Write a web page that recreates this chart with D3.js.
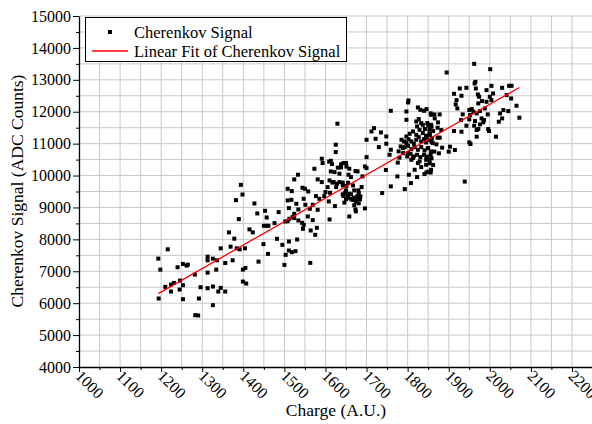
<!DOCTYPE html>
<html>
<head>
<meta charset="utf-8">
<script src="https://cdn.jsdelivr.net/npm/d3@7"></script>
<style>
html,body{margin:0;padding:0;background:#fff;}
svg{display:block;font-family:"Liberation Serif","Times New Roman",serif;}
</style>
</head>
<body>
<svg id="chart" width="592" height="424"></svg>
<script>
// ---- data ----
const charge = [
1193,1198,1216,1194,1210,1224,1231,1224,1246,1253,1245,1253,1240,1253,1262,1265,1282,1283,1290,1292,
1296,1313,1313,1313,1313,1326,1326,1326,1334,1336,1339,1345,1345,1356,1356,1365,1369,1374,1378,1382,
1394,1398,1389,1384,1391,1399,1399,1405,1407,1404,1415,1423,1427,1434,1437,
1629,1625,1625,1591,1593,1613,1616,1573,1644,1650,1638,1658,1673,1678,1533,1524,1581,1591,1613,1622,
1634,1656,1662,1610,1620,1628,1634,1642,1655,1667,1670,1680,1650,1658,1644,1655,1662,1674,1626,1605,
1600,1611,1597,1608,1623,1673,1658,1610,1508,1518,1544,1550,1558,1508,1517,1529,1511,1547,1551,1562,
1569,1581,1534,1524,1520,1512,1502,1508,1524,1534,1543,1547,1545,1557,1569,1564,1579,1575,1531,1511,
1495,1486,1476,1456,1450,1461,1457,1453,1449,1460,1482,1503,1511,1518,1527,1500,1563,1585,1577,
1642,1648,1654,1662,1670,1678,1684,1650,1666,1674,1646,1670,1681,1642,1651,1617,1638,1651,1609,1630,
1747,1780,1776,1851,
1802,1801,1759,1797,1825,1831,1840,1797,1821,1827,1857,1837,1848,1853,1718,1712,1722,1700,1735,1748,
1748,1730,1759,1756,1700,1696,1700,1690,1688,1681,1676,1685,1674,1696,1738,1759,1775,1793,1808,1823,
1841,1817,1803,1778,1789,1801,1813,1825,1833,1845,1853,1857,
1785,1791,1797,1802,1809,1815,1821,1827,1833,1840,1845,1851,1859,1783,1793,1801,1809,1817,1825,1833,
1841,1849,1857,1789,1799,1807,1815,1823,1831,1840,1848,1856,1797,1805,1813,1821,1829,1837,1845,1853,
1861,1809,1829,1845,1823,1833,1857,
1962,2001,1895,1965,1963,1927,1943,1913,1931,1966,1971,1974,1992,2004,2008,2000,2030,2047,2053,2041,
2052,1919,1917,1921,1972,1981,1992,2004,1950,1956,1960,1934,1968,1976,1988,1995,2033,2045,2065,2072,
2025,2030,2022,1930,1950,1952,1980,1984,1986,1964,1976,1962,1943,1968,1972,1996,1998,2015,1968,1950,
1953,1913,1931,1939,1903,1915,1900,1884,1878,1873,
1846,1856,1865,1878,1866,1874,1858,1850,1842,1862,1854,1882,1873,1846,1858,1870,1850,1865,1876,1846,
1858,1854,1862,1846,1856
];
const signal = [
7396,7052,7688,6146,6510,6583,6635,6365,6708,6563,6427,6125,7125,7229,7177,7208,6896,5625,5615,6146,
6500,7458,7344,6958,6469,7396,6521,5938,7052,7344,6365,7719,6479,6365,7260,8219,7771,7344,8021,9229,
9708,9406,8635,7719,7688,7052,6677,7104,6615,7719,8313,8219,9125,8813,7302,
11625,10967,10736,10527,10391,10464,10360,10213,10391,10391,10255,10213,10140,10130,10025,9879,9879,9795,10130,10109,
10056,10025,9952,9847,9795,9743,9795,9690,9774,9690,9534,9534,9534,9429,9356,9304,9272,9272,9638,9638,
9481,9460,9356,9189,9042,8937,8718,8624,9586,9513,9617,9586,9502,9220,9240,9115,8979,9272,9084,8958,
9084,8927,8937,8801,8697,8645,8561,8571,8666,8592,8519,8456,8331,8718,8603,8278,8362,8142,7996,7933,
7829,8854,8509,8425,8425,8425,8686,8895,7850,7546,8017,7515,7651,7598,7630,7201,7263,9272,9356,
9413,9465,9361,9413,9309,9361,9257,9257,9236,9173,9152,9069,9131,9779,9674,9779,10353,10280,10436,10248,
10175,10562,10405,10123,
12353,12290,12029,12008,12134,12060,12029,11747,11695,11768,11904,11590,11643,11434,11486,11382,11152,11121,11351,11225,
10996,10891,10808,10651,10578,10286,10234,9973,9639,9451,9294,9347,8877,8971,9451,9660,9973,9576,9764,9952,
10046,10182,10025,10756,10860,10703,10547,10390,10265,10338,10495,10182,
11121,11069,11016,11142,11069,10996,11121,11204,11069,11142,11037,11121,11173,10912,10891,10933,10828,10891,10808,10891,
10787,10860,10756,10703,10599,10682,10599,10651,10578,10651,10578,10651,11225,11309,11382,11277,11434,11330,11246,11309,
11016,10494,10442,10494,11538,11643,11590,
13500,13333,13229,12937,12885,12729,12750,12562,12500,12729,12541,12468,12677,12812,12572,12468,12750,12812,12812,12521,
12416,12364,12229,12104,12260,12333,12312,12364,12052,12083,12000,11916,11947,12020,12104,11916,12052,12020,12187,11812,
11947,11791,11687,11739,11760,11895,11791,11666,11739,11708,11604,11562,11562,11426,11458,11458,11395,11218,11218,11041,
10989,11395,11374,9811,10905,10801,10749,10874,11187,11187,
12083,11947,11916,11916,11791,11666,11530,11562,11458,11395,11270,11426,11499,11166,11062,10978,10853,10749,10697,10593,
10541,10384,10332,10103,10093
];
const fitCharge = [1193, 2072];
const fitSignal = [6300, 12760];
const xTickValues = [1000,1100,1200,1300,1400,1500,1600,1700,1800,1900,2000,2100,2200];
const yTickValues = [4000,5000,6000,7000,8000,9000,10000,11000,12000,13000,14000,15000];
const legendLabels = ["Cherenkov Signal", "Linear Fit of Cherenkov Signal"];
const xTitle = "Charge (A.U.)";
const yTitle = "Cherenkov Signal (ADC Counts)";

// ---- chart ----
const svg = d3.select("#chart");
const x = d3.scaleLinear().domain([1000, 2250]).range([79, 592.5]);
const y = d3.scaleLinear().domain([4000, 15000]).range([367, 16]);

const grid = svg.append("g").attr("stroke", "#c9c9c9").attr("stroke-width", 1);
grid.selectAll("line.v").data(d3.range(1050, 2251, 50)).join("line")
  .attr("x1", d => x(d)).attr("x2", d => x(d)).attr("y1", y(4000)).attr("y2", y(15000));
grid.selectAll("line.h").data(d3.range(4500, 15001, 500)).join("line")
  .attr("y1", d => y(d)).attr("y2", d => y(d)).attr("x1", x(1000)).attr("x2", x(2250));

const fs = "16px";
// x axis
const xAxis = svg.append("g").attr("transform", `translate(0,${y(4000)})`)
  .call(d3.axisBottom(x).tickValues(xTickValues).tickSize(5).tickSizeOuter(0).tickFormat(d3.format("d")));
svg.append("g").attr("transform", `translate(0,${y(4000)})`)
  .call(d3.axisBottom(x).tickValues(d3.range(1050, 2250, 100)).tickSize(3).tickSizeOuter(0).tickFormat(""))
  .select(".domain").remove();
xAxis.selectAll("text")
  .attr("font-size", fs).attr("font-family", "Liberation Serif").attr("fill", "#000")
  .attr("text-anchor", "start").attr("y", 0).attr("dy", "0.35em")
  .attr("transform", "translate(-1,6) rotate(45)");
// y axis
const yAxis = svg.append("g").attr("transform", `translate(${x(1000)},0)`)
  .call(d3.axisLeft(y).tickValues(yTickValues).tickSize(6).tickSizeOuter(0).tickFormat(d3.format("d")));
svg.append("g").attr("transform", `translate(${x(1000)},0)`)
  .call(d3.axisLeft(y).tickValues(d3.range(4500, 15000, 1000)).tickSize(3).tickSizeOuter(0).tickFormat(""))
  .select(".domain").remove();
yAxis.selectAll("text").attr("font-size", fs).attr("font-family", "Liberation Serif").attr("fill", "#000").attr("x", -8);
svg.selectAll(".domain").attr("stroke-width", 1.3);

// points
svg.append("g").selectAll("rect").data(charge.map((c, i) => [c, signal[i]])).join("rect")
  .attr("x", d => x(d[0]) - 2).attr("y", d => y(d[1]) - 2)
  .attr("width", 4).attr("height", 4).attr("fill", "#000");

// fit line
svg.append("line")
  .attr("x1", x(fitCharge[0])).attr("y1", y(fitSignal[0]))
  .attr("x2", x(fitCharge[1])).attr("y2", y(fitSignal[1]))
  .attr("stroke", "#ff0000").attr("stroke-width", 1.3);

// titles
svg.append("text").attr("x", 336).attr("y", 416).attr("text-anchor", "middle")
  .attr("font-size", "17.5px").text(xTitle);
svg.append("text").attr("transform", "translate(23,191) rotate(-90)").attr("text-anchor", "middle")
  .attr("font-size", "17.5px").text(yTitle);

// legend
const lg = svg.append("g");
lg.append("rect").attr("x", 85.5).attr("y", 17.5).attr("width", 261).attr("height", 44)
  .attr("fill", "#fff").attr("stroke", "#000").attr("stroke-width", 1);
lg.append("rect").attr("x", 108).attr("y", 30).attr("width", 4).attr("height", 4).attr("fill", "#000");
lg.append("line").attr("x1", 92).attr("x2", 128).attr("y1", 51).attr("y2", 51)
  .attr("stroke", "#ff0000").attr("stroke-width", 1.3);
lg.selectAll("text").data(legendLabels).join("text")
  .attr("x", 134).attr("y", (d, i) => 32 + i * 19).attr("dy", "0.35em")
  .attr("font-size", "16.5px").text(d => d);
</script>
</body>
</html>
